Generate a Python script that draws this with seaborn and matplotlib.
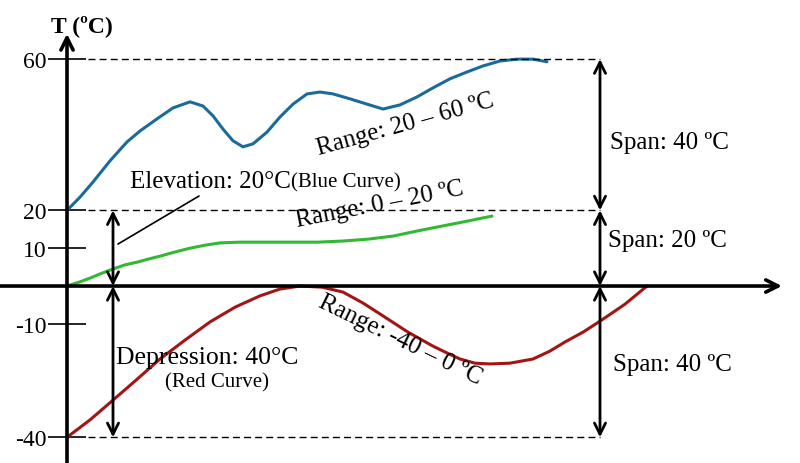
import pandas as pd
import matplotlib.pyplot as plt
import seaborn as sns

# ===== Data =====
blue_x = [0.0, 1.3, 2.6, 4.3, 6.0, 7.3, 9.0, 10.6, 12.3, 13.6, 14.6, 15.6, 16.6, 17.6,
          18.6, 20.0, 21.3, 22.6, 24.0, 25.3, 26.6, 28.3, 30.0, 31.6, 33.3, 35.0,
          36.6, 38.3, 40.0, 41.6, 43.3, 45.0, 46.6, 48.0]
blue_t = [20.0, 23.5, 27.5, 33.1, 38.1, 41.0, 44.2, 47.1, 48.7, 47.6, 45.0, 41.5, 38.4,
          36.8, 37.6, 40.7, 44.7, 48.1, 50.8, 51.3, 50.8, 49.5, 48.1, 46.8, 47.9, 50.0,
          52.4, 54.8, 56.6, 58.2, 59.5, 60.0, 60.0, 59.3]

green_x = [0.0, 1.3, 2.3, 3.5, 4.6, 5.8, 7.0, 8.1, 9.3, 10.8, 12.3, 13.8, 15.3, 17.3,
           19.0, 20.8, 22.6, 25.1, 27.6, 30.1, 32.6, 35.1, 37.6, 40.1, 42.5]
green_t = [0.0, 1.1, 2.1, 3.4, 4.5, 5.6, 6.3, 7.1, 7.9, 9.0, 10.0, 10.8, 11.4, 11.6,
           11.6, 11.6, 11.6, 11.6, 11.9, 12.4, 13.2, 14.6, 15.9, 17.2, 18.5]

red_x = [0.0, 2.3, 4.5, 6.9, 9.3, 11.8, 14.3, 16.8, 19.3, 21.3, 23.3, 25.5, 27.6, 29.6,
         31.6, 34.1, 36.6, 38.0, 39.3, 40.8, 42.3, 44.3, 46.6, 48.3, 49.8, 51.6, 53.3,
         55.8, 58.0]
red_t = [-40.0, -35.4, -30.4, -24.9, -19.3, -14.3, -9.5, -5.6, -2.6, -0.8, 0.0, -0.3,
         -1.6, -4.5, -7.9, -12.2, -15.9, -17.7, -19.3, -20.4, -20.6, -20.4, -19.3,
         -17.2, -14.8, -12.2, -9.3, -4.8, 0.0]

tick_values = [60, 20, 10, -10, -40]
tick_labels = ["60", "20", "10", "-10", "-40"]
dashed_levels = [60, 20, -40]

curves = pd.concat([
    pd.DataFrame({"x": blue_x, "T": blue_t, "curve": "blue"}),
    pd.DataFrame({"x": green_x, "T": green_t, "curve": "green"}),
    pd.DataFrame({"x": red_x, "T": red_t, "curve": "red"}),
])
palette = {"blue": "#1b6b9a", "green": "#33b833", "red": "#a31515"}

# ===== Style =====
sns.set_style("white")
plt.rcParams["font.family"] = ["Liberation Serif", "DejaVu Serif"]
plt.rcParams["text.color"] = "black"
plt.rcParams["ytick.color"] = "black"
plt.rcParams["ytick.labelcolor"] = "black"

fig = plt.figure(figsize=(8, 4.64), dpi=100)
ax = fig.add_axes([0, 0, 1, 1])

sns.lineplot(data=curves, x="x", y="T", hue="curve", palette=palette,
             sort=False, estimator=None, legend=False, linewidth=2.2,
             solid_joinstyle="round", solid_capstyle="round", ax=ax)

ax.set_xlim(-6.7, 73.3)
ax.set_ylim(-46.8, 75.9)

for s in ["top", "right", "bottom", "left"]:
    ax.spines[s].set_visible(False)
ax.spines["left"].set_position(("data", 0))
ax.set_xticks([])
ax.set_yticks(tick_values)
ax.set_yticklabels(tick_labels)
ax.tick_params(axis="y", left=True, direction="inout", length=28, width=1.2,
               labelsize=17, pad=1, colors="black")
ax.set_xlabel("")
ax.set_ylabel("")

# axes with arrow heads
ax.annotate("", xy=(0, 66.7), xytext=(0, -46.8),
            arrowprops=dict(arrowstyle="->", lw=2.6, color="black",
                            mutation_scale=22, shrinkA=0, shrinkB=0))
ax.annotate("", xy=(71.5, 0), xytext=(-6.7, 0),
            arrowprops=dict(arrowstyle="->", lw=2.6, color="black",
                            mutation_scale=22, shrinkA=0, shrinkB=0))
ax.text(1.5, 67.4, "T (ºC)", fontsize=17, fontweight="bold",
        ha="center", va="baseline")

# dashed reference levels
ax.hlines(dashed_levels, 2.1, 53.3, colors="black", linestyles=(0, (5, 3)),
          linewidth=1.0)

# double arrows for spans
def span_arrow(x, y0, y1):
    ax.annotate("", xy=(x, y1), xytext=(x, y0),
                arrowprops=dict(arrowstyle="<->", lw=2.0, color="black",
                                mutation_scale=20, shrinkA=0, shrinkB=0))

span_arrow(4.6, 0, 20)
span_arrow(4.6, -40, 0)
span_arrow(53.3, 20, 60)
span_arrow(53.3, 0, 20)
span_arrow(53.3, -40, 0)

# leader line for elevation label
ax.plot([5.1, 13.2], [11.1, 23.8], color="black", linewidth=1.2)

ax.text(6.3, 26.3, "Elevation: 20°C", fontsize=18, va="baseline")
ax.text(22.4, 26.3, "(Blue Curve)", fontsize=15, va="baseline")
ax.text(14.0, -20.4, "Depression: 40°C", fontsize=18.5, ha="center", va="baseline")
ax.text(15.0, -26.5, "(Red Curve)", fontsize=15, ha="center", va="baseline")

ax.text(33.8, 42.9, "Range: 20 – 60 ºC", fontsize=18, rotation=15.5,
        ha="center", va="center", rotation_mode="anchor")
ax.text(31.3, 21.7, "Range: 0 – 20 ºC", fontsize=18, rotation=11,
        ha="center", va="center", rotation_mode="anchor")
ax.text(33.3, -14.0, "Range: -40 – 0 ºC", fontsize=18, rotation=-26,
        ha="center", va="center", rotation_mode="anchor")

ax.text(54.3, 38.1, "Span: 40 ºC", fontsize=18, va="center")
ax.text(54.1, 12.2, "Span: 20 ºC", fontsize=18, va="center")
ax.text(54.6, -20.6, "Span: 40 ºC", fontsize=18, va="center")

plt.savefig("out.png", dpi=100)
